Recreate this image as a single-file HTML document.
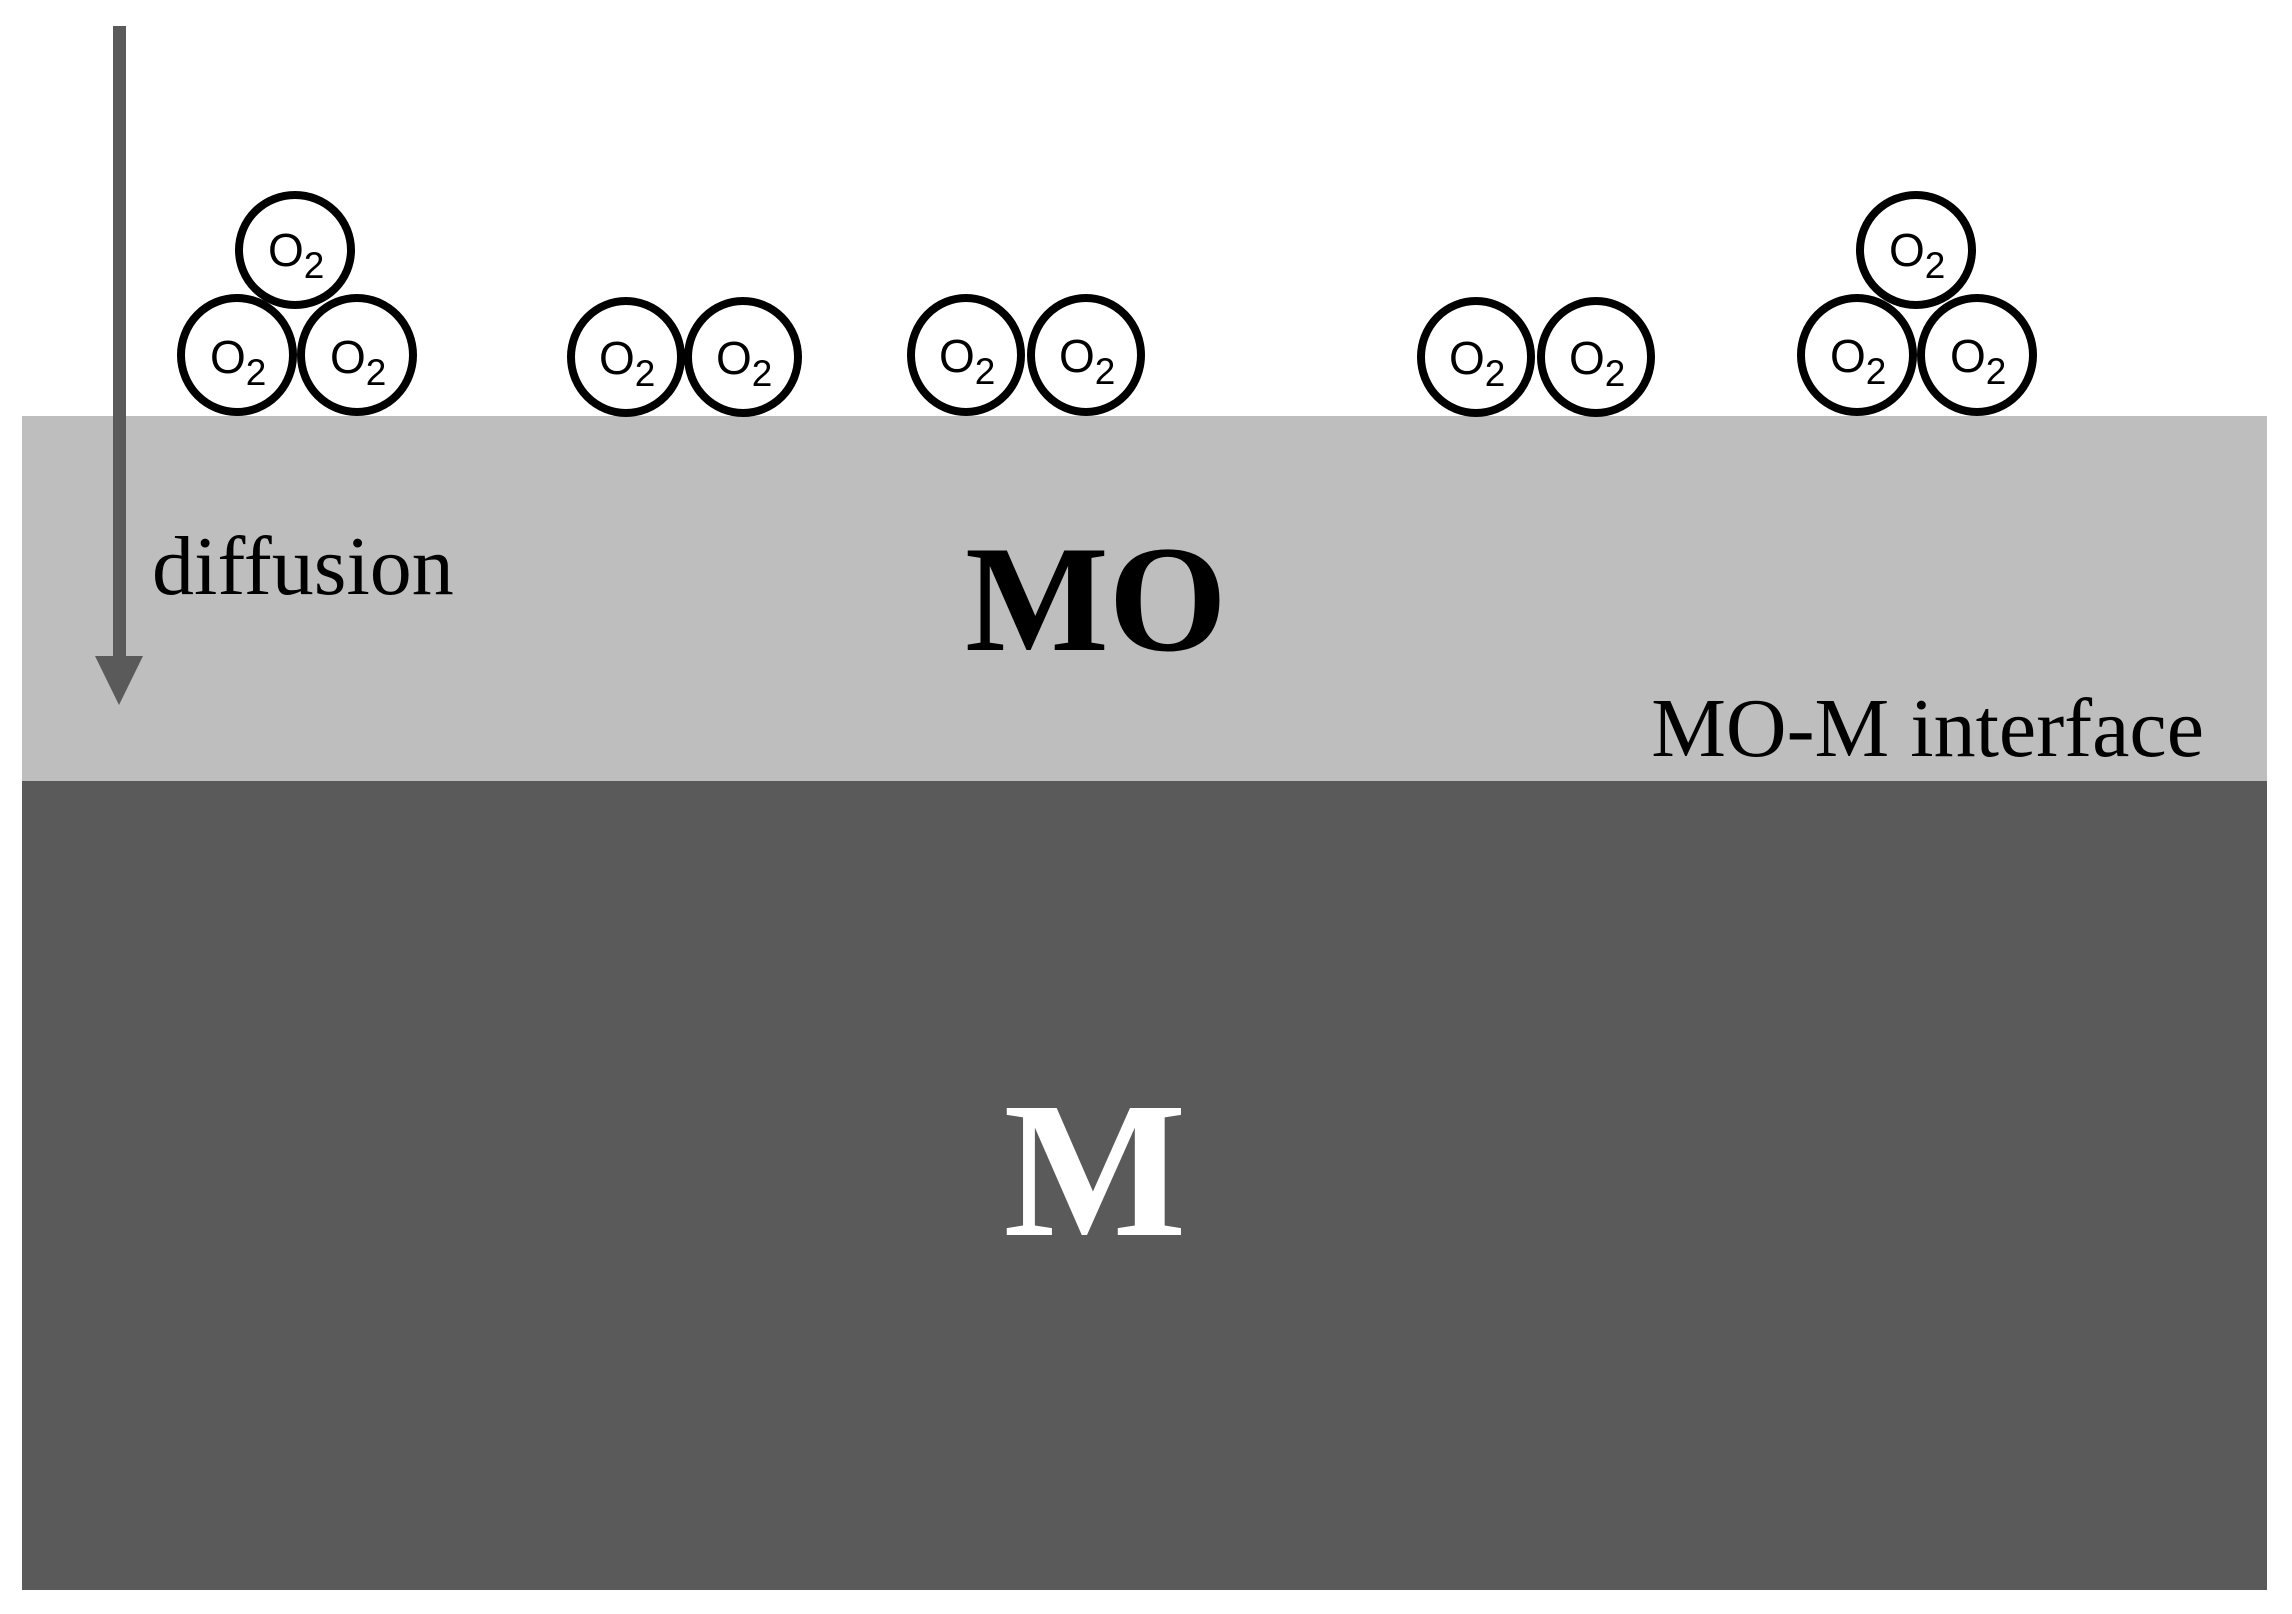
<!DOCTYPE html>
<html><head><meta charset="utf-8"><style>
html,body{margin:0;padding:0;background:#fff;}
svg{display:block;}
</style></head><body>
<svg width="2292" height="1614" viewBox="0 0 2292 1614" xmlns="http://www.w3.org/2000/svg">
<rect x="0" y="0" width="2292" height="1614" fill="#fff"/>
<rect x="22" y="416" width="2245" height="366" fill="#bebebe"/>
<rect x="22" y="781" width="2245" height="809" fill="#5a5a5a"/>
<rect x="113" y="26" width="13" height="632" fill="#5a5a5a"/>
<polygon points="95,656 143,656 119,705" fill="#5a5a5a"/>
<text x="152" y="594" font-family="Liberation Serif, serif" font-size="84" fill="#000">diffusion</text>
<text x="1096" y="650" text-anchor="middle" font-family="Liberation Serif, serif" font-weight="bold" font-size="152" fill="#000">MO</text>
<text x="2204" y="756" text-anchor="end" font-family="Liberation Serif, serif" font-size="84" fill="#000">MO-M interface</text>
<text x="1095" y="1235" text-anchor="middle" font-family="Liberation Serif, serif" font-weight="bold" font-size="194" fill="#fff">M</text>
<g fill="#fff" stroke="#000" stroke-width="8">
<ellipse cx="237" cy="355" rx="56" ry="57"/>
<ellipse cx="357" cy="355" rx="56" ry="57"/>
<ellipse cx="295" cy="250" rx="56" ry="55"/>
<ellipse cx="626" cy="357" rx="55" ry="56"/>
<ellipse cx="743" cy="357" rx="55" ry="56"/>
<ellipse cx="966" cy="355" rx="55" ry="57"/>
<ellipse cx="1086" cy="355" rx="55" ry="57"/>
<ellipse cx="1476" cy="357" rx="55" ry="56"/>
<ellipse cx="1596" cy="357" rx="55" ry="56"/>
<ellipse cx="1857" cy="355" rx="56" ry="57"/>
<ellipse cx="1977" cy="355" rx="56" ry="57"/>
<ellipse cx="1916" cy="250" rx="56" ry="55"/>
</g>
<g font-family="Liberation Sans, sans-serif" fill="#000">
<text x="210" y="373" font-size="46">O<tspan font-size="37" dy="12">2</tspan></text>
<text x="330" y="373" font-size="46">O<tspan font-size="37" dy="12">2</tspan></text>
<text x="268" y="266" font-size="46">O<tspan font-size="37" dy="12">2</tspan></text>
<text x="599" y="374" font-size="46">O<tspan font-size="37" dy="12">2</tspan></text>
<text x="716" y="374" font-size="46">O<tspan font-size="37" dy="12">2</tspan></text>
<text x="939" y="372" font-size="46">O<tspan font-size="37" dy="12">2</tspan></text>
<text x="1059" y="372" font-size="46">O<tspan font-size="37" dy="12">2</tspan></text>
<text x="1449" y="374" font-size="46">O<tspan font-size="37" dy="12">2</tspan></text>
<text x="1569" y="374" font-size="46">O<tspan font-size="37" dy="12">2</tspan></text>
<text x="1830" y="372" font-size="46">O<tspan font-size="37" dy="12">2</tspan></text>
<text x="1950" y="372" font-size="46">O<tspan font-size="37" dy="12">2</tspan></text>
<text x="1889" y="266" font-size="46">O<tspan font-size="37" dy="12">2</tspan></text>
</g>
</svg>
</body></html>
